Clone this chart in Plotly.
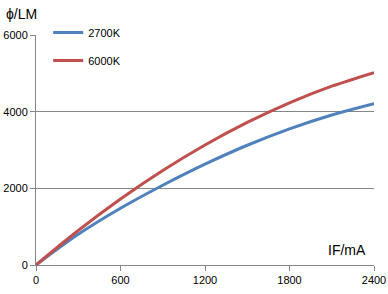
import plotly.graph_objects as go

current_ma = [0, 300, 600, 900, 1200, 1500, 1800, 2100, 2400]
flux_2700k = [0, 800, 1480, 2080, 2630, 3124, 3552, 3914, 4210]
flux_6000k = [0, 899, 1720, 2464, 3130, 3719, 4230, 4664, 5020]
x_ticks = [0, 600, 1200, 1800, 2400]
y_ticks = [0, 2000, 4000, 6000]

FAM = "Liberation Sans, Arial, sans-serif"

fig = go.Figure()
fig.add_trace(go.Scatter(x=current_ma, y=flux_2700k, mode="lines", name="2700K",
                         line=dict(color="#4F81BD", width=3, shape="spline"),
                         legendgroup="a"))
fig.add_trace(go.Scatter(x=current_ma, y=flux_6000k, mode="lines", name="6000K",
                         line=dict(color="#C0504D", width=3, shape="spline"),
                         legendgroup="b"))

fig.update_layout(
    width=388, height=294,
    margin=dict(l=36, r=14, t=35, b=29),
    paper_bgcolor="white", plot_bgcolor="white",
    font=dict(family=FAM, size=11, color="#000000"),
    showlegend=True,
    legend=dict(x=0.036, y=1.074, xanchor="left", yanchor="top",
                bgcolor="rgba(0,0,0,0)", tracegroupgap=9,
                font=dict(family=FAM, size=11)),
    xaxis=dict(range=[0, 2400], tickvals=x_ticks, ticks="outside", ticklen=5,
               tickcolor="#868686", showline=True, linecolor="#868686", linewidth=1,
               showgrid=False, zeroline=False, fixedrange=True, automargin=False),
    yaxis=dict(range=[0, 6000], tickvals=y_ticks, ticks="outside", ticklen=5,
               tickcolor="#868686", showline=True, linecolor="#868686", linewidth=1,
               showgrid=True, gridcolor="#868686", gridwidth=1, zeroline=False,
               fixedrange=True, automargin=False),
    annotations=[
        dict(text="ϕ/LM", xref="paper", yref="paper", x=-0.043, y=1.091,
             xanchor="center", yanchor="middle", showarrow=False,
             font=dict(family=FAM, size=14)),
        dict(text="IF/mA", xref="paper", yref="paper", x=0.920, y=0.065,
             xanchor="center", yanchor="middle", showarrow=False,
             font=dict(family=FAM, size=14)),
    ],
)

fig.write_html("out.html")
